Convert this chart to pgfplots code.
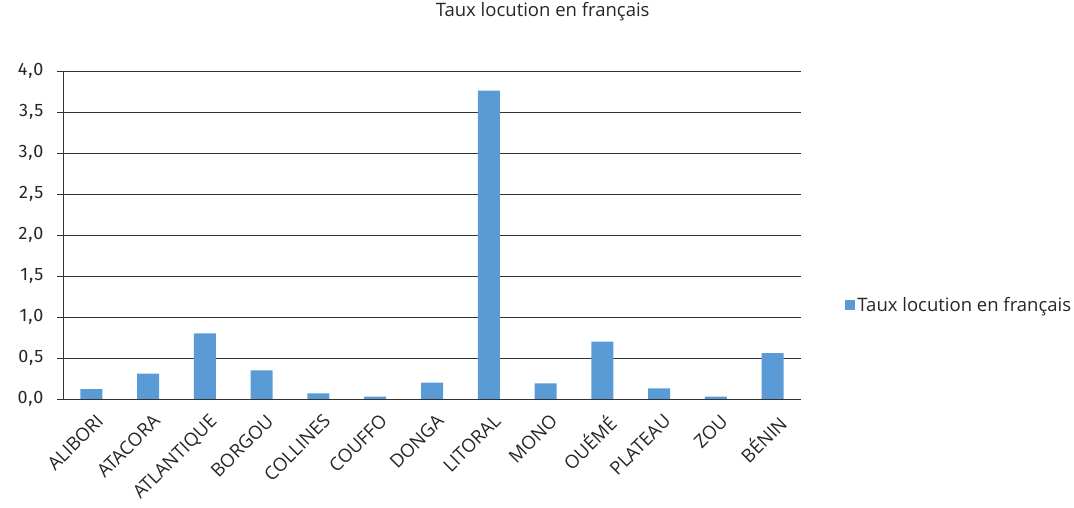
\documentclass[border=0pt]{standalone}
\usepackage{pgfplots}
\pgfplotsset{compat=1.18}
\usepackage{fontspec}
\setmainfont{Open Sans}
\newfontfamily\tickfont[LetterSpace=5]{Fira Sans}
\definecolor{barblue}{RGB}{91,155,213}
\definecolor{linegray}{RGB}{50,50,50}
\begin{document}
\begin{tikzpicture}
\useasboundingbox (-63pt,-109pt) rectangle (1011pt,399pt);
\begin{axis}[
  at={(0pt,0pt)}, anchor=south west,
  scale only axis, width=738pt, height=328pt,
  ymin=0, ymax=4, xmin=-0.5, xmax=12.5,
  ytick={0,0.5,...,4},
  axis lines*=left,
  axis line style={linegray, line width=0.9pt},
  ymajorgrids, grid style={linegray, line width=0.9pt},
  major tick style={linegray, line width=0.9pt},
  minor tick style={linegray, line width=0.9pt},
  tick align=outside,
  xtick={0,...,12},
  xtick style={draw=none},
  minor xtick={-0.5,0.5,...,12.5},
  minor tick length=10pt,
  major tick length=6pt,
  xticklabels={ALIBORI,ATACORA,ATLANTIQUE,BORGOU,COLLINES,COUFFO,DONGA,LITORAL,MONO,OUÉMÉ,PLATEAU,ZOU,BÉNIN},
  xticklabel style={rotate=45, anchor=north east, font=\fontsize{18.5}{22}\selectfont, text=black!85, inner sep=2pt, yshift=-6pt, xshift=-1pt},
  yticklabel style={font=\tickfont\fontsize{18}{20}\selectfont, text=black!85, xshift=-10pt},
  /pgf/number format/assume math mode=true,
  yticklabel={\pgfmathprintnumber[fixed,fixed zerofill,precision=1,use comma]{\tick}},
  title={Taux locution en français},
  title style={at={(0.650,1.162)}, anchor=center, font=\fontsize{18.5}{22}\selectfont, text=black!85},
  legend style={at={(1.06,0.287)}, anchor=west, draw=none, font=\fontsize{18.5}{22}\selectfont, text=black!85, inner sep=0pt},
  legend image code/.code={\fill[barblue] (0cm,-5pt) rectangle (10pt,5pt);},
  clip=false,
]
\addplot[ybar, bar width=22pt, fill=barblue, draw=none] coordinates {
(0,0.12) (1,0.31) (2,0.80) (3,0.35) (4,0.07) (5,0.03) (6,0.20) (7,3.76) (8,0.19) (9,0.70) (10,0.13) (11,0.03) (12,0.56)
};
\addlegendentry{Taux locution en français}
\end{axis}
\end{tikzpicture}
\end{document}
